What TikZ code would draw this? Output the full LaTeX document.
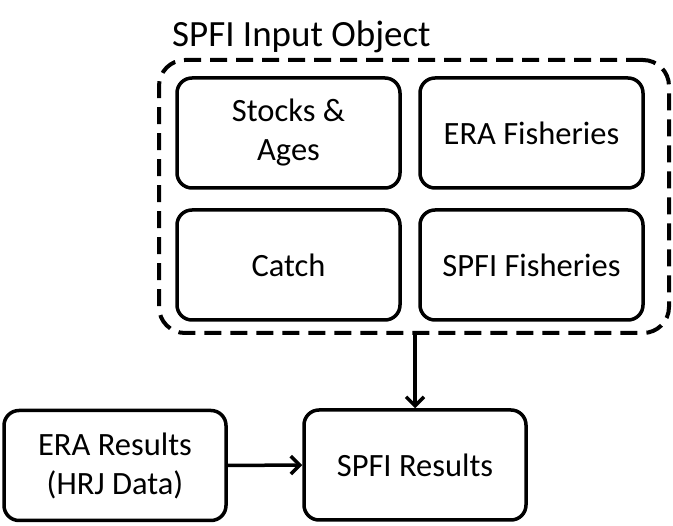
\documentclass[tikz,border=0pt]{standalone}
\usepackage{fontspec}
\setmainfont{Carlito}
\usetikzlibrary{arrows.meta}
\begin{document}
\begin{tikzpicture}[x=1pt,y=-1pt,
  box/.style={draw=black, line width=3.5pt, rounded corners=15pt, fill=white,
    minimum width=223pt, minimum height=110pt, align=center, inner sep=0pt,
    font=\fontsize{32.5}{39}\selectfont},
  container/.style={draw=black, line width=4pt, rounded corners=26pt,
    dash pattern=on 17pt off 9pt, minimum width=510pt, minimum height=273pt, inner sep=0pt},
  title/.style={font=\fontsize{37}{40}\selectfont, anchor=base west, inner sep=0pt},
  arr/.style={line width=3.5pt, -{Straight Barb[length=9pt,width=18pt,line width=3.5pt]}}
]
\useasboundingbox (0,0) rectangle (673,526);
\node[container] (cont) at (414,196.5) {};
\node[title] (ttl) at (172,47) {SPFI Input Object};
\node[box] (stocks) at (288.5,133) {Stocks \&\\Ages};
\node[box] (erafish) at (531.5,133) {ERA Fisheries};
\node[box] (catch) at (288.5,265) {Catch};
\node[box] (spfifish) at (531.5,265) {SPFI Fisheries};
\node[box, minimum width=222pt] (spfires) at (415,465) {SPFI Results};
\node[box, minimum width=222pt] (erares) at (115,465.5) {ERA Results\\(HRJ Data)};
\draw[arr] (cont.south -| spfires.north) -- (spfires.north);
\draw[arr] (erares.east) -- (spfires.west);
\end{tikzpicture}
\end{document}
